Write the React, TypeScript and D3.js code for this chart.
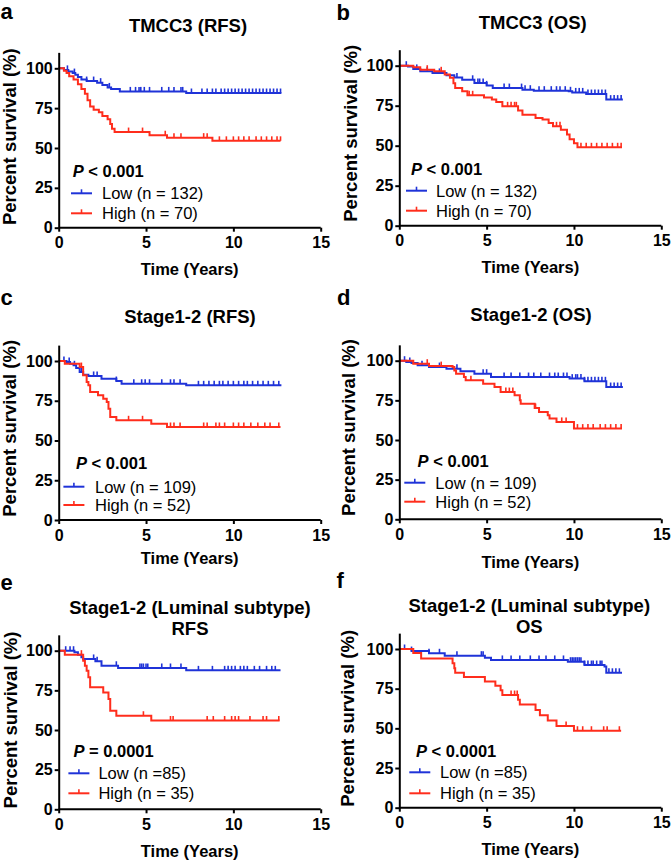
import React, { useEffect, useRef } from 'react';
import * as d3 from 'd3';

type Step = [number, number];

const panelLetters = ['a', 'b', 'c', 'd', 'e', 'f'];
const titles = [
  ['TMCC3 (RFS)'],
  ['TMCC3 (OS)'],
  ['Stage1-2 (RFS)'],
  ['Stage1-2 (OS)'],
  ['Stage1-2 (Luminal subtype)', 'RFS'],
  ['Stage1-2 (Luminal subtype)', 'OS'],
];
const pSigns = ['<', '<', '<', '<', '=', '<'];
const pValues = ['0.001', '0.001', '0.001', '0.001', '0.0001', '0.0001'];
const lowLabels = ['Low (n = 132)', 'Low (n = 132)', 'Low (n = 109)', 'Low (n = 109)', 'Low (n =85)', 'Low (n =85)'];
const highLabels = ['High (n = 70)', 'High (n = 70)', 'High (n = 52)', 'High (n = 52)', 'High (n = 35)', 'High (n = 35)'];
const xTicks = [0, 5, 10, 15];
const yTicks = [0, 25, 50, 75, 100];

// Kaplan-Meier steps [time (years), survival %] and censor times
const lowA: Step[] = [[0.3, 99], [0.55, 98], [0.8, 97], [0.95, 96], [1.1, 94.5], [1.3, 93], [1.6, 92], [2.2, 91], [2.5, 89.5], [2.8, 88], [3.0, 87], [3.5, 85.5], [7.3, 84.5]];
const lowACens = [0.5, 0.9, 1.6, 2.0, 2.4, 2.9, 4.1, 4.4, 4.6, 4.7, 4.9, 5.2, 5.9, 6.3, 6.6, 7.0, 7.1, 7.6, 8.2, 8.5, 8.8, 9.0, 9.3, 9.5, 9.7, 9.9, 10.1, 10.3, 10.5, 10.7, 10.9, 11.1, 11.3, 11.5, 11.7, 11.9, 12.1, 12.3, 12.5, 12.7];
const highA: Step[] = [[0.3, 98.5], [0.45, 97], [0.6, 95], [0.85, 93], [1.1, 90], [1.3, 87], [1.5, 84], [1.65, 80], [1.8, 76], [2.0, 74], [2.3, 72.5], [2.5, 70], [2.8, 68], [2.95, 65], [3.05, 62], [3.2, 60], [5.2, 58], [6.2, 56.5], [8.8, 54.5]];
const highACens = [4.0, 4.8, 6.1, 6.6, 7.0, 8.3, 8.5, 9.2, 9.6, 10.0, 10.3, 10.6, 10.9, 11.3, 11.6, 11.9, 12.2, 12.5, 12.7];

const lowB: Step[] = [[0.5, 99.5], [0.8, 98], [1.2, 96.5], [1.9, 95.5], [2.7, 94], [3.15, 92.7], [3.6, 91.2], [4.3, 89.2], [5.0, 87.7], [5.35, 86], [7.05, 85], [7.7, 84.4], [9.7, 84], [9.9, 83.3], [10.7, 82.3], [11.85, 78.8]];
const lowBCens = [0.4, 1.0, 1.6, 2.3, 3.3, 4.2, 4.5, 4.6, 4.8, 5.0, 6.0, 6.3, 7.0, 7.2, 7.5, 8.0, 8.3, 8.7, 9.0, 9.2, 9.5, 9.8, 10.1, 10.3, 10.5, 10.8, 11.0, 11.2, 11.4, 11.6, 11.8, 12.1, 12.3, 12.5, 12.7];
const highB: Step[] = [[0.8, 99], [1.2, 97.5], [2.0, 96.5], [2.6, 94.5], [2.9, 92.5], [3.1, 89], [3.2, 86], [3.6, 84], [3.9, 81.5], [4.85, 80.2], [5.3, 78.8], [5.55, 77.3], [5.9, 74.6], [6.8, 72], [7.05, 69.4], [7.8, 67.3], [8.2, 66.3], [8.55, 64.2], [8.8, 62.1], [9.25, 60], [9.6, 57], [9.75, 54], [10.0, 51.5], [10.2, 49]];
const highBCens = [1.6, 2.4, 4.0, 4.2, 6.2, 6.4, 6.6, 6.7, 9.0, 9.2, 10.4, 10.7, 11.0, 11.3, 11.6, 11.9, 12.2, 12.5, 12.7];

const lowC: Step[] = [[0.45, 99.4], [0.65, 98.3], [0.85, 97.3], [1.0, 95.6], [1.2, 93.1], [1.4, 91.4], [1.7, 90.6], [2.45, 88.9], [3.3, 87.4], [3.6, 85.7], [7.3, 84.7]];
const lowCCens = [0.3, 0.6, 0.9, 1.3, 2.0, 2.2, 3.3, 4.3, 4.75, 4.95, 5.2, 5.9, 6.4, 6.6, 6.95, 8.0, 8.3, 8.6, 8.9, 9.2, 9.4, 9.7, 10.0, 10.3, 10.6, 10.8, 11.1, 11.4, 11.7, 12.0, 12.3, 12.6];
const highC: Step[] = [[0.35, 98.3], [1.2, 96.2], [1.4, 91], [1.6, 86.8], [1.7, 84.7], [1.8, 80.5], [2.25, 78.4], [2.55, 76.3], [2.75, 74.2], [2.85, 70], [2.95, 64.8], [3.3, 62.7], [5.3, 60.6], [6.2, 58.5]];
const highCCens = [1.3, 4.0, 4.8, 6.4, 6.6, 6.95, 8.3, 8.5, 9.0, 9.2, 9.5, 10.0, 10.3, 10.6, 11.0, 11.4, 11.8, 12.1, 12.6];

const lowD: Step[] = [[0.4, 99.2], [0.7, 98.5], [1.05, 97.1], [1.7, 96], [2.7, 95], [3.5, 93.3], [4.3, 91.8], [5.25, 89.7], [9.75, 88.7], [10.6, 87], [11.85, 83.4]];
const lowDCens = [0.3, 0.6, 1.3, 2.3, 3.3, 4.8, 5.0, 6.0, 6.4, 6.9, 7.4, 7.7, 8.1, 8.6, 8.9, 9.1, 9.4, 9.6, 9.9, 10.1, 10.2, 10.4, 10.6, 10.8, 11.0, 11.2, 11.4, 11.6, 11.8, 12.1, 12.3, 12.5, 12.7];
const highD: Step[] = [[0.8, 98.1], [1.7, 96.6], [3.05, 96], [3.15, 93.9], [3.25, 91.8], [3.7, 89.7], [3.8, 87.6], [4.8, 85.5], [5.45, 83.4], [5.8, 80.2], [6.6, 78.2], [6.9, 75], [6.95, 72.9], [7.75, 70.2], [8.0, 67.6], [8.5, 65.6], [8.6, 63.5], [9.0, 61.4], [10.0, 57.2]];
const highDCens = [1.6, 2.4, 4.1, 6.1, 6.3, 6.5, 7.8, 9.3, 9.55, 10.2, 10.5, 10.8, 11.1, 11.5, 11.8, 12.1, 12.4, 12.7];

const lowE: Step[] = [[0.9, 99], [1.1, 97.5], [1.3, 95.8], [1.4, 94.8], [2.1, 93.3], [2.45, 90.5], [3.4, 89.1], [7.3, 87.6]];
const lowECens = [0.4, 0.65, 0.85, 2.0, 2.2, 3.3, 4.65, 4.75, 4.85, 5.0, 5.1, 5.9, 6.4, 7.0, 8.0, 8.8, 9.5, 9.7, 9.9, 10.1, 10.4, 10.6, 10.8, 11.2, 11.5, 11.9, 12.2, 12.4];
const highE: Step[] = [[0.35, 97.5], [1.4, 93.7], [1.5, 90.5], [1.6, 87.4], [1.7, 83.2], [1.8, 76.9], [2.55, 73.7], [2.85, 69.5], [2.95, 62.2], [3.3, 59], [5.3, 56]];
const highECens = [1.3, 4.85, 6.4, 6.55, 8.5, 8.85, 9.5, 9.9, 10.1, 10.3, 10.95, 11.7, 11.9, 12.6];

const lowF: Step[] = [[0.7, 98.7], [1.7, 97.3], [2.6, 95.8], [4.9, 94.5], [5.25, 93.1], [9.65, 92], [10.6, 89.9], [11.75, 88.9], [11.85, 85]];
const lowFCens = [0.3, 0.7, 1.7, 2.3, 3.3, 4.7, 4.8, 5.9, 6.4, 6.9, 7.5, 8.0, 8.4, 8.9, 9.4, 9.8, 9.9, 10.0, 10.1, 10.2, 10.3, 10.4, 10.6, 10.8, 11.0, 11.1, 11.3, 11.5, 11.6, 12.0, 12.2, 12.4, 12.6];
const highF: Step[] = [[0.8, 97.5], [1.25, 94], [3.05, 91], [3.15, 87.8], [3.2, 85], [3.7, 82.3], [4.9, 79.6], [5.5, 76.8], [5.8, 74], [5.9, 71], [6.8, 68], [6.9, 65], [7.8, 61.5], [8.05, 58.3], [8.5, 55], [9.0, 51.5], [10.0, 48.5]];
const highFCens = [6.4, 6.6, 6.75, 9.55, 10.2, 10.5, 11.0, 11.7, 11.9, 12.6];

const lowEnds = [12.75, 12.8, 12.75, 12.8, 12.7, 12.75];
const highEnds = [12.7, 12.75, 12.7, 12.75, 12.65, 12.7];

const series = [
  { low: lowA, lowC: lowACens, high: highA, highC: highACens },
  { low: lowB, lowC: lowBCens, high: highB, highC: highBCens },
  { low: lowC, lowC: lowCCens, high: highC, highC: highCCens },
  { low: lowD, lowC: lowDCens, high: highD, highC: highDCens },
  { low: lowE, lowC: lowECens, high: highE, highC: highECens },
  { low: lowF, lowC: lowFCens, high: highF, highC: highFCens },
];

// layout of each panel (pixels)
const layout = [
  { left: 58.7, bottom: 227.7, top: 68.3, titleX: 188, titleY: 32, letterX: 0.5, letterY: 18.5, ylabX: 15.5, ylabY: 136.7, xlabY: 275, pY: 176.7, lowY: 193.3, highY: 213.3, lineX: 12.3, textX: 43.3, pX: 14 },
  { left: 399.3, bottom: 225.7, top: 65.7, titleX: 532.7, titleY: 29.3, letterX: 336.5, letterY: 19.5, ylabX: 356.7, ylabY: 133.3, xlabY: 273, pY: 175, lowY: 190.7, highY: 210.7, lineX: 6.7, textX: 36.7, pX: 11.7 },
  { left: 58.7, bottom: 520, top: 361, titleX: 190, titleY: 323.3, letterX: 0.5, letterY: 305, ylabX: 16, ylabY: 428.3, xlabY: 564, pY: 469.3, lowY: 486.7, highY: 505, lineX: 4.7, textX: 36.3, pX: 17.3 },
  { left: 399.3, bottom: 519.3, top: 360.7, titleX: 531, titleY: 320.7, letterX: 337, letterY: 305, ylabX: 355, ylabY: 427.5, xlabY: 568, pY: 466.7, lowY: 482.7, highY: 501.7, lineX: 5, textX: 36, pX: 18.3 },
  { left: 58.7, bottom: 809.3, top: 650.7, titleX: 190, titleY: 614.3, letterX: 0.5, letterY: 590, ylabX: 16.5, ylabY: 720, xlabY: 856.7, pY: 756.7, lowY: 773.3, highY: 793.3, lineX: 9.7, textX: 39.7, pX: 14.7 },
  { left: 399.3, bottom: 807.7, top: 649, titleX: 529.3, titleY: 612.3, letterX: 336.5, letterY: 588, ylabX: 354.3, ylabY: 718.3, xlabY: 855, pY: 756.7, lowY: 772.3, highY: 793.3, lineX: 10, textX: 40.7, pX: 16.7 },
];

const BLUE = '#1f33d8';
const RED = '#ff2d1c';
const FONT = '"Liberation Sans", Arial, Helvetica, sans-serif';
const PLOT_W = 262;

const App = () => {
  const svgRef = useRef<SVGSVGElement>(null);

  useEffect(() => {
    const svg = d3.select(svgRef.current);
    svg.selectAll('*').remove();
    svg.style('font-family', FONT);

    series.forEach((s, i) => {
      const L = layout[i];
      const g = svg.append('g');
      const x = d3.scaleLinear().domain([0, 15]).range([L.left, L.left + PLOT_W]);
      const y = d3.scaleLinear().domain([0, 100]).range([L.bottom, L.top]);

      // panel letter
      g.append('text').attr('x', L.letterX).attr('y', L.letterY)
        .attr('font-size', 22).attr('font-weight', 'bold').text(panelLetters[i]);

      // title
      titles[i].forEach((t, k) => {
        g.append('text').attr('x', L.titleX).attr('y', L.titleY + k * 21)
          .attr('text-anchor', 'middle').attr('font-size', 18.5).attr('font-weight', 'bold').text(t);
      });

      // curves
      const line = d3.line<Step>().x(d => x(d[0])).y(d => y(d[1])).curve(d3.curveStepAfter);
      const drawGroup = (steps: Step[], cens: number[], end: number, color: string) => {
        const last = steps[steps.length - 1][1];
        const pts: Step[] = [[0, 100], ...steps, [end, last]];
        g.append('path').attr('d', line(pts)).attr('fill', 'none')
          .attr('stroke', color).attr('stroke-width', 2);
        const bis = d3.bisector((d: Step) => d[0]).right;
        cens.forEach(c => {
          const idx = bis(pts, c) - 1;
          const v = pts[Math.max(0, idx)][1];
          g.append('line').attr('x1', x(c)).attr('x2', x(c))
            .attr('y1', y(v) - 4.5).attr('y2', y(v))
            .attr('stroke', color).attr('stroke-width', 1.6);
        });
      };
      drawGroup(s.low, s.lowC, lowEnds[i], BLUE);
      drawGroup(s.high, s.highC, highEnds[i], RED);

      // axes
      const xAxis = g.append('g').attr('transform', `translate(0,${L.bottom})`)
        .call(d3.axisBottom(x).tickValues(xTicks).tickSize(4).tickSizeOuter(0).tickFormat(d3.format('d')));
      xAxis.select('.domain').attr('stroke-width', 2).attr('d', `M${x(0)},0H${x(15)}`);
      xAxis.selectAll('.tick line').attr('stroke-width', 2);
      xAxis.selectAll('.tick text').attr('font-size', 16).attr('font-weight', 'bold')
        .attr('font-family', FONT).attr('fill', '#000').attr('dy', null).attr('y', 20.5);

      const yAxis = g.append('g').attr('transform', `translate(${L.left},0)`)
        .call(d3.axisLeft(d3.scaleLinear().domain([0, 110]).range([L.bottom, y(110)]))
          .tickValues(yTicks).tickSize(4).tickSizeOuter(0).tickPadding(2));
      yAxis.select('.domain').attr('stroke-width', 2);
      yAxis.selectAll('.tick line').attr('stroke-width', 2);
      yAxis.selectAll('.tick text').attr('font-size', 16).attr('font-weight', 'bold')
        .attr('font-family', FONT).attr('fill', '#000');

      // axis labels
      g.append('text').attr('transform', `translate(${L.ylabX},${L.ylabY}) rotate(-90)`)
        .attr('text-anchor', 'middle').attr('font-size', 18.5).attr('font-weight', 'bold')
        .text('Percent survival (%)');
      g.append('text').attr('x', L.left + PLOT_W / 2).attr('y', L.xlabY)
        .attr('text-anchor', 'middle').attr('font-size', 16.5).attr('font-weight', 'bold')
        .text('Time (Years)');

      // legend
      const pt = g.append('text').attr('x', L.left + L.pX).attr('y', L.pY)
        .attr('font-size', 16.5).attr('font-weight', 'bold');
      pt.append('tspan').attr('font-style', 'italic').text('P');
      pt.append('tspan').text(` ${pSigns[i]} ${pValues[i]}`);

      const items = [
        { label: lowLabels[i], color: BLUE, yy: L.lowY },
        { label: highLabels[i], color: RED, yy: L.highY },
      ];
      items.forEach(it => {
        const x0 = L.left + L.lineX;
        g.append('line').attr('x1', x0).attr('x2', x0 + 21).attr('y1', it.yy).attr('y2', it.yy)
          .attr('stroke', it.color).attr('stroke-width', 2);
        g.append('line').attr('x1', x0 + 10.5).attr('x2', x0 + 10.5).attr('y1', it.yy - 4).attr('y2', it.yy)
          .attr('stroke', it.color).attr('stroke-width', 1.6);
        g.append('text').attr('x', L.left + L.textX).attr('y', it.yy).attr('dy', '0.36em')
          .attr('font-size', 16.5).text(it.label);
      });
    });
  }, []);

  return (
    <svg ref={svgRef} width={672} height={862}
      style={{ position: 'absolute', left: 0, top: 0, background: '#fff' }} />
  );
};

export default App;
